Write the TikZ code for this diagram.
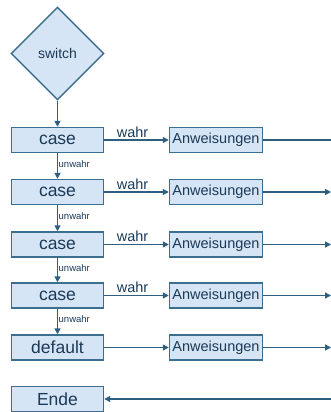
\documentclass[tikz,border=0pt]{standalone}
\usepackage{fontspec}
\setmainfont{Liberation Sans}
\usetikzlibrary{shapes.geometric,arrows.meta}
\definecolor{boxfill}{HTML}{D5E5F5}
\definecolor{boxline}{HTML}{3C6E8F}
\definecolor{txt}{HTML}{1B3A57}
\definecolor{conn}{HTML}{2F5F80}
\tikzset{
  box/.style={draw=boxline, fill=boxfill, line width=1.4pt, rectangle, minimum width=92pt, minimum height=25pt, inner sep=0pt, text=txt, font=\fontsize{17.5}{19}\selectfont},
  abox/.style={box, minimum width=93pt, font=\fontsize{14.5}{16}\selectfont},
  dia/.style={draw=boxline, fill=boxfill, line width=1.4pt, diamond, aspect=1, minimum width=93pt, minimum height=93pt, inner sep=0pt, text=txt, font=\fontsize{14}{15}\selectfont},
  conn/.style={draw=conn, line width=1.4pt},
  arr/.style={conn, -{Triangle[length=6pt,width=6pt]}},
  wlab/.style={text=txt, font=\fontsize{14.5}{16}\selectfont, inner sep=0pt},
  ulab/.style={text=txt, font=\fontsize{9.5}{11}\selectfont, inner sep=0pt, anchor=west},
}
\begin{document}
\begin{tikzpicture}[x=1pt,y=-1pt]
\useasboundingbox (0,0) rectangle (331,412);
\node[dia] (sw) at (57.5,53.5) {switch};
\node[box] (c1) at (57.5,140) {case};
\node[box] (c2) at (57.5,192) {case};
\node[box] (c3) at (57.5,244.5) {case};
\node[box] (c4) at (57.5,295.5) {case};
\node[box] (df) at (57.5,347.5) {default};
\node[box] (en) at (57.5,399) {Ende};
\node[abox] (a1) at (216,140) {Anweisungen};
\node[abox] (a2) at (216,192) {Anweisungen};
\node[abox] (a3) at (216,244.5) {Anweisungen};
\node[abox] (a4) at (216,295.5) {Anweisungen};
\node[abox] (a5) at (216,347.5) {Anweisungen};
\coordinate (r1) at (331,140);
\coordinate (r2) at (331,192);
\coordinate (r3) at (331,244.5);
\coordinate (r4) at (331,295.5);
\coordinate (r5) at (331,347.5);
\coordinate (r6) at (331,399);
\draw[arr] (sw.south) -- (c1.north);
\draw[arr] (c1.south) -- (c2.north);
\draw[arr] (c2.south) -- (c3.north);
\draw[arr] (c3.south) -- (c4.north);
\draw[arr] (c4.south) -- (df.north);
\draw[arr] (c1.east) -- (a1.west);
\draw[arr] (c2.east) -- (a2.west);
\draw[arr] (c3.east) -- (a3.west);
\draw[arr] (c4.east) -- (a4.west);
\draw[arr] (df.east) -- (a5.west);
\draw[conn] (a1.east) -- (r1);
\draw[arr] (a2.east) -- (r2);
\draw[arr] (a3.east) -- (r3);
\draw[arr] (a4.east) -- (r4);
\draw[arr] (a5.east) -- (r5);
\draw[arr] (r6) -- (en.east);
\node[wlab] (w1) at (132.5,132) {wahr};
\node[wlab] (w2) at (132.5,184) {wahr};
\node[wlab] (w3) at (132.5,236.5) {wahr};
\node[wlab] (w4) at (132.5,287.5) {wahr};
\node[ulab] (u1) at (58.5,164.5) {unwahr};
\node[ulab] (u2) at (58.5,216.5) {unwahr};
\node[ulab] (u3) at (58.5,268.5) {unwahr};
\node[ulab] (u4) at (58.5,319.5) {unwahr};
\end{tikzpicture}
\end{document}
